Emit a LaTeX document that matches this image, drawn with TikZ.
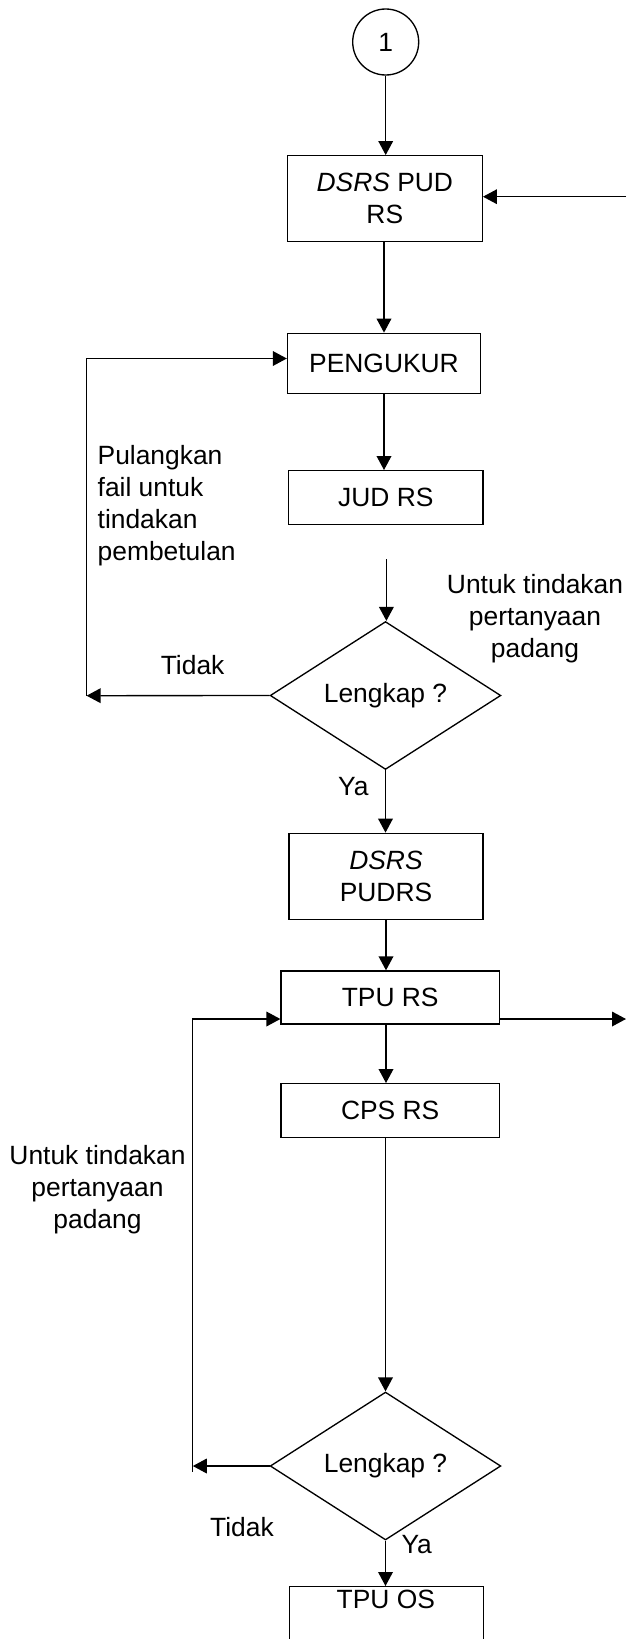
\documentclass[tikz,border=0pt]{standalone}
\usepackage{fontspec}
\setmainfont{Liberation Sans}
\usetikzlibrary{shapes.geometric,arrows.meta}
\begin{document}
\begin{tikzpicture}[x=0.75pt,y=-0.75pt,
  font=\fontsize{19.8pt}{24pt}\selectfont, line width=1pt,
  arr/.style={-{Triangle[length=10.5pt,width=11pt]}},
  box/.style={draw, rectangle, inner sep=0pt, align=center},
  dec/.style={draw, diamond, inner sep=0pt, minimum width=173pt, minimum height=84pt},
  lbl/.style={inner sep=0pt, align=center}]
\useasboundingbox (0,0) rectangle (626,1639);

% nodes
\node[draw, circle, minimum size=49.5pt, inner sep=0pt] (c1) at (385.7,42) {1};
\node[box, minimum width=146.25pt, minimum height=64.2pt] (b1) at (384.8,198.5) {\textit{DSRS} PUD\\RS};
\node[box, minimum width=144.75pt, minimum height=45.3pt] (peng) at (384,363.5) {PENGUKUR};
\node[box, minimum width=145.8pt, minimum height=40.2pt] (jud) at (385.8,497.5) {JUD RS};
\node[dec] (d1) at (385.5,695.5) {Lengkap ?};
\node[box, minimum width=145.5pt, minimum height=64.5pt] (b2) at (386,876.3) {\textit{DSRS}\\PUDRS};
\node[box, minimum width=163.7pt, minimum height=39.75pt] (tpu) at (390.2,997.5) {TPU RS};
\node[box, minimum width=163.7pt, minimum height=40.2pt] (cps) at (390.2,1110.5) {CPS RS};
\node[dec] (d2) at (385.5,1466) {Lengkap ?};
\node[draw, rectangle, inner sep=0pt, minimum width=145.5pt, minimum height=90pt, anchor=north] (tpuos) at (386.3,1586) {};
\node[lbl] (tpuostxt) at (385.8,1599.3) {TPU OS};

% labels
\node[lbl, align=left, anchor=west] (lpul) at (97,505.5) {Pulangkan\\fail untuk\\tindakan\\pembetulan};
\node[lbl] (ltid1) at (192.6,665) {Tidak};
\node[lbl] (lunt1) at (535,619) {Untuk tindakan\\pertanyaan\\padang};
\node[lbl] (lya1) at (353.3,786.7) {Ya};
\node[lbl] (lunt2) at (97.5,1190) {Untuk tindakan\\pertanyaan\\padang};
\node[lbl] (ltid2) at (242,1527) {Tidak};
\node[lbl] (lya2) at (416.7,1545) {Ya};

% coordinates
\coordinate (r1) at (626,196.7);
\coordinate (L1) at (86.6,695.7);
\coordinate (L1top) at (86.6,358.5);
\coordinate (f1) at (386.4,559);
\coordinate (r2) at (626,1019);
\coordinate (col) at (386,0);
\coordinate (L2) at (192.8,1466);
\coordinate (L2bot) at (192.8,1471.7);
\coordinate (L2top) at (192.8,1019);

% connectors
\draw[arr] (c1.south) -- (c1.south |- b1.north);
\draw[arr] (r1) -- (r1 -| b1.east);
\draw[arr] (b1.south -| peng.north) -- (peng.north);
\draw[arr] (peng.south) -- (peng.south |- jud.north);
\draw[arr] (d1.west) -- (L1);
\draw[arr] (L1) -- (L1top) -- (L1top -| peng.west);
\draw[arr] (f1) -- (f1 |- d1.north);
\draw[arr] (d1.south) -- (d1.south |- b2.north);
\draw[arr] (col |- b2.south) -- (col |- tpu.north);
\draw[arr] (tpu.east |- r2) -- (r2);
\draw[arr] (col |- tpu.south) -- (col |- cps.north);
\draw[arr] (d2.north |- cps.south) -- (d2.north);
\draw[arr] (d2.west) -- (L2);
\draw[arr] (L2bot) -- (L2top) -- (L2top -| tpu.west);
\draw[arr] (d2.south) -- (d2.south |- tpuos.north);
\end{tikzpicture}
\end{document}
